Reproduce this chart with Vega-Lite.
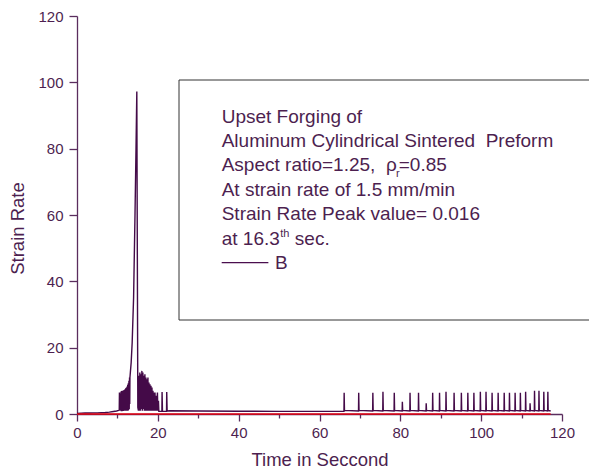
{
  "$schema": "https://vega.github.io/schema/vega-lite/v6.json",
  "width": 485,
  "height": 398,
  "autosize": "none",
  "padding": {"left": 77, "top": 16, "right": 27, "bottom": 60},
  "background": "white",
  "config": {"view": {"stroke": null}, "font": "Liberation Sans"},
  "datasets": {
    "main": [
      {"t":0,"v":0.2},{"t":1,"v":0.25},{"t":2,"v":0.3},{"t":3,"v":0.3},{"t":4,"v":0.35},{"t":5,"v":0.35},{"t":6,"v":0.4},{"t":7,"v":0.45},{"t":8,"v":0.55},{"t":9,"v":0.75},{"t":9.8,"v":0.9},{"t":10.3,"v":1.1},
      {"t":10.45,"v":1.2},{"t":10.5,"v":6.5},{"t":10.6,"v":1.0},
      {"t":10.9,"v":6.8},{"t":10.97,"v":0.8},{"t":11.05,"v":6.9},{"t":11.12,"v":0.8},{"t":11.2,"v":7.0},{"t":11.27,"v":0.9},{"t":11.35,"v":7.0},{"t":11.42,"v":0.9},{"t":11.5,"v":7.1},{"t":11.57,"v":1},{"t":11.65,"v":7.2},{"t":11.72,"v":1},{"t":11.8,"v":7.3},{"t":11.87,"v":1},{"t":11.95,"v":7.5},{"t":12.02,"v":1},{"t":12.1,"v":7.8},{"t":12.17,"v":1},{"t":12.25,"v":8.0},{"t":12.32,"v":1},{"t":12.4,"v":8.3},{"t":12.47,"v":1},{"t":12.55,"v":8.8},{"t":12.62,"v":1},{"t":12.7,"v":9.3},{"t":12.77,"v":1.2},{"t":12.85,"v":10},{"t":12.92,"v":1.5},{"t":13.0,"v":11},{"t":13.05,"v":3},
      {"t":13.1,"v":11},{"t":13.4,"v":15.5},{"t":13.65,"v":21.5},{"t":14.0,"v":35},{"t":14.35,"v":60},{"t":14.6,"v":80},{"t":14.8,"v":97.2},{"t":15.05,"v":2},{"t":15.2,"v":1},
      {"t":15.3,"v":11.5},{"t":15.4,"v":1},{"t":15.55,"v":12.5},{"t":15.65,"v":1},{"t":15.8,"v":12},{"t":15.9,"v":1.5},{"t":16.05,"v":13},{"t":16.15,"v":1},{"t":16.3,"v":12.5},{"t":16.4,"v":1.5},{"t":16.55,"v":11.5},{"t":16.65,"v":1},{"t":16.8,"v":12},{"t":16.9,"v":1},{"t":17.05,"v":11},{"t":17.15,"v":1},{"t":17.3,"v":10.5},{"t":17.4,"v":1},{"t":17.55,"v":11},{"t":17.65,"v":1},{"t":17.8,"v":9.5},{"t":17.9,"v":1},{"t":18.05,"v":9},{"t":18.15,"v":1},{"t":18.3,"v":8.5},{"t":18.4,"v":1},{"t":18.55,"v":8},{"t":18.65,"v":1},{"t":18.8,"v":7},{"t":18.9,"v":1},{"t":19.05,"v":6.5},{"t":19.15,"v":1},{"t":19.3,"v":6.5},{"t":19.4,"v":1},{"t":19.6,"v":5.5},{"t":19.7,"v":1},{"t":19.9,"v":6.5},{"t":20.0,"v":1},{"t":20.15,"v":4},{"t":20.25,"v":0.8},{"t":21.0,"v":0.8},{"t":21.05,"v":6.6},{"t":21.15,"v":0.8},{"t":22.15,"v":0.8},{"t":22.2,"v":6.6},{"t":22.3,"v":0.9},
      {"t":23,"v":1.0},{"t":30,"v":0.9},{"t":40,"v":0.85},{"t":50,"v":0.8},{"t":60,"v":0.8},
      {"t":66.05,"v":0.8},{"t":66.1,"v":6.4},{"t":66.18,"v":1.1},
      {"t":69.65,"v":0.9},{"t":69.7,"v":6.4},{"t":69.78,"v":1.1},
      {"t":73.15,"v":0.9},{"t":73.2,"v":6.4},{"t":73.28,"v":1.1},
      {"t":75.65,"v":0.9},{"t":75.7,"v":6.7},{"t":75.78,"v":1.1},
      {"t":78.45,"v":0.9},{"t":78.5,"v":6.4},{"t":78.58,"v":1.1},
      {"t":80.45,"v":0.9},{"t":80.5,"v":3.7},{"t":80.58,"v":1.1},
      {"t":82.35,"v":0.9},{"t":82.4,"v":6.4},{"t":82.48,"v":1.1},
      {"t":84.45,"v":0.9},{"t":84.5,"v":6.4},{"t":84.58,"v":1.1},
      {"t":86.35,"v":0.9},{"t":86.4,"v":3.2},{"t":86.48,"v":1.1},
      {"t":87.95,"v":0.9},{"t":88.0,"v":6.4},{"t":88.08,"v":1.1},
      {"t":89.65,"v":0.9},{"t":89.7,"v":6.4},{"t":89.78,"v":1.1},
      {"t":91.25,"v":0.9},{"t":91.3,"v":6.7},{"t":91.38,"v":1.1},
      {"t":93.25,"v":0.9},{"t":93.3,"v":6.4},{"t":93.38,"v":1.1},
      {"t":95.05,"v":0.9},{"t":95.1,"v":6.4},{"t":95.18,"v":1.1},
      {"t":96.65,"v":0.9},{"t":96.7,"v":6.4},{"t":96.78,"v":1.1},
      {"t":98.15,"v":0.9},{"t":98.2,"v":6.4},{"t":98.28,"v":1.1},
      {"t":99.75,"v":0.9},{"t":99.8,"v":6.7},{"t":99.88,"v":1.1},
      {"t":101.15,"v":0.9},{"t":101.2,"v":6.7},{"t":101.28,"v":1.1},
      {"t":102.65,"v":0.9},{"t":102.7,"v":6.4},{"t":102.78,"v":1.1},
      {"t":104.15,"v":0.9},{"t":104.2,"v":6.4},{"t":104.28,"v":1.1},
      {"t":105.65,"v":0.9},{"t":105.7,"v":6.4},{"t":105.78,"v":1.1},
      {"t":106.95,"v":0.9},{"t":107.0,"v":6.4},{"t":107.08,"v":1.1},
      {"t":108.35,"v":0.9},{"t":108.4,"v":6.4},{"t":108.48,"v":1.1},
      {"t":109.65,"v":0.9},{"t":109.7,"v":6.4},{"t":109.78,"v":1.1},
      {"t":110.95,"v":0.9},{"t":111.0,"v":6.7},{"t":111.08,"v":1.1},
      {"t":112.05,"v":0.9},{"t":112.1,"v":3.2},{"t":112.18,"v":1.1},
      {"t":113.15,"v":0.9},{"t":113.2,"v":7.0},{"t":113.28,"v":1.1},
      {"t":114.25,"v":0.9},{"t":114.3,"v":7.0},{"t":114.38,"v":1.1},
      {"t":115.45,"v":0.9},{"t":115.5,"v":6.7},{"t":115.58,"v":1.1},
      {"t":116.45,"v":0.9},{"t":116.5,"v":6.7},{"t":116.58,"v":1.1},
      {"t":117.2,"v":0.9}
    ],
    "red": [{"t":0,"v":0},{"t":117.2,"v":0}],
    "box": [{"t1":25.24,"t2":130,"v1":28.34,"v2":100.7}],
    "legendline": [{"t1":35.8,"t2":47.35,"v":45.62}],
    "notes": [
      {"t":35.8,"v":87.83,"label":"Upset Forging of","size":"big"},
      {"t":35.8,"v":80.47,"label":"Aluminum Cylindrical Sintered\u00a0 Preform","size":"big"},
      {"t":35.8,"v":73.12,"label":"Aspect ratio=1.25,\u00a0 ρ","size":"big"},
      {"t":78.9,"v":71.37,"label":"r","size":"small"},
      {"t":79.6,"v":73.12,"label":"=0.85","size":"big"},
      {"t":35.8,"v":65.76,"label":"At strain rate of 1.5 mm/min","size":"big"},
      {"t":35.8,"v":58.40,"label":"Strain Rate Peak value= 0.016","size":"big"},
      {"t":35.8,"v":51.04,"label":"at 16.3","size":"big"},
      {"t":50.3,"v":53.27,"label":"th","size":"small"},
      {"t":53.9,"v":51.04,"label":"sec.","size":"big"},
      {"t":49.0,"v":43.69,"label":"B","size":"big"}
    ]
  },
  "layer": [
    {
      "data": {"name": "box"},
      "mark": {"type": "rect", "fill": null, "stroke": "#333333", "strokeWidth": 1, "clip": false},
      "encoding": {
        "x": {"field": "t1", "type": "quantitative", "scale": {"domain": [0, 120], "nice": false}},
        "x2": {"field": "t2"},
        "y": {"field": "v1", "type": "quantitative", "scale": {"domain": [0, 120], "nice": false}},
        "y2": {"field": "v2"}
      }
    },
    {
      "data": {"name": "main"},
      "mark": {"type": "line", "color": "#440a48", "strokeWidth": 1.4},
      "encoding": {
        "x": {
          "field": "t", "type": "quantitative",
          "scale": {"domain": [0, 120], "nice": false},
          "axis": {
            "title": "Time in Seccond",
            "values": [0,10,20,30,40,50,60,70,80,90,100,110,120],
            "labelExpr": "datum.value % 20 === 0 ? datum.label : ''",
            "grid": false,
            "domainColor": "#5a2d5e", "tickColor": "#5a2d5e", "labelColor": "#4d1f50", "titleColor": "#4d1f50",
            "domainWidth": 1.3, "tickWidth": 1.3,
            "tickSize": {"condition": {"test": "datum.value % 20 === 0", "value": 7}, "value": 4},
            "labelFontSize": 15, "labelFont": "Liberation Sans", "labelPadding": 4,
            "labelOverlap": false, "labelFlush": false,
            "titleFontSize": 18.5, "titleFont": "Liberation Sans", "titleFontWeight": "normal", "titlePadding": 10
          }
        },
        "y": {
          "field": "v", "type": "quantitative",
          "scale": {"domain": [0, 120], "nice": false},
          "axis": {
            "title": "Strain Rate",
            "values": [0,10,20,30,40,50,60,70,80,90,100,110,120],
            "labelExpr": "datum.value % 20 === 0 ? datum.label : ''",
            "grid": false,
            "domainColor": "#5a2d5e", "tickColor": "#5a2d5e", "labelColor": "#4d1f50", "titleColor": "#4d1f50",
            "domainWidth": 1.3, "tickWidth": 1.3,
            "tickSize": {"condition": {"test": "datum.value % 20 === 0", "value": 8}, "value": 4},
            "labelFontSize": 15, "labelFont": "Liberation Sans", "labelPadding": 6,
            "labelOverlap": false, "labelFlush": false,
            "titleFontSize": 18.5, "titleFont": "Liberation Sans", "titleFontWeight": "normal",
            "titleY": 212, "titleX": -60, "titleBaseline": "middle", "titleAlign": "center", "titleAngle": -90
          }
        }
      }
    },
    {
      "data": {"name": "red"},
      "mark": {"type": "line", "color": "#e3000f", "strokeWidth": 1.5},
      "encoding": {
        "x": {"field": "t", "type": "quantitative", "scale": {"domain": [0, 120], "nice": false}},
        "y": {"field": "v", "type": "quantitative", "scale": {"domain": [0, 120], "nice": false}}
      }
    },
    {
      "data": {"name": "legendline"},
      "mark": {"type": "rule", "color": "#4a0e4e", "strokeWidth": 1.2},
      "encoding": {
        "x": {"field": "t1", "type": "quantitative", "scale": {"domain": [0, 120], "nice": false}},
        "x2": {"field": "t2"},
        "y": {"field": "v", "type": "quantitative", "scale": {"domain": [0, 120], "nice": false}}
      }
    },
    {
      "data": {"name": "notes"},
      "mark": {"type": "text", "align": "left", "baseline": "alphabetic", "color": "#4d1f50", "font": "Liberation Sans"},
      "encoding": {
        "x": {"field": "t", "type": "quantitative", "scale": {"domain": [0, 120], "nice": false}},
        "y": {"field": "v", "type": "quantitative", "scale": {"domain": [0, 120], "nice": false}},
        "text": {"field": "label"},
        "size": {"field": "size", "type": "nominal", "scale": {"domain": ["big", "small"], "range": [19, 11]}, "legend": null}
      }
    }
  ]
}
